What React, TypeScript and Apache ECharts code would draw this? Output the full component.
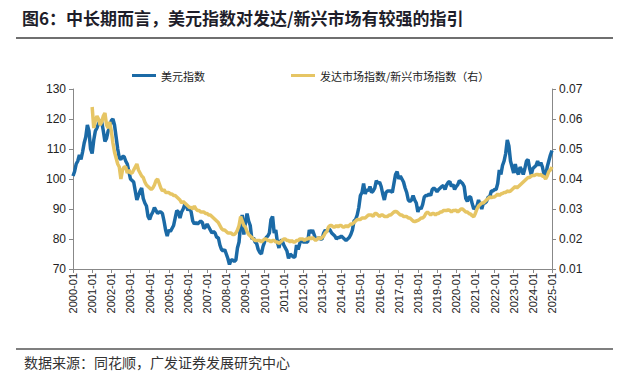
import React, { useEffect, useRef } from "react";
import * as echarts from "echarts";

const TITLE = "图6：中长期而言，美元指数对发达/新兴市场有较强的指引";
const SOURCE = "数据来源：同花顺，广发证券发展研究中心";
const SERIES_NAMES = ["美元指数", "发达市场指数/新兴市场指数（右）"];
const START_YEAR = 2000;

// 美元指数 (monthly, 2000-01 .. 2025-01)
const usdIndex = [
  // 2000
  101, 102.5, 105, 106, 108, 106.5, 109, 112, 114, 118, 116, 110,
  // 2001
  108.5, 113, 116, 117, 118.5, 119.5, 119, 116, 112.5, 113.5, 116, 117,
  // 2002
  119.5, 120, 118, 114, 110, 107, 106.5, 107.5, 107.5, 106, 105, 102.5,
  // 2003
  100, 99.5, 99, 96, 93, 94.5, 96, 97, 93.5, 92, 91, 87.5,
  // 2004
  86.5, 88, 89, 90.5, 89.5, 88.5, 89, 89, 88.5, 86, 83, 81,
  // 2005
  83, 82.5, 83.5, 84.5, 87, 89.5, 89, 87, 89, 90, 91.5, 91,
  // 2006
  89.5, 90.5, 89, 86, 85, 85.5, 85, 85.5, 86, 85.5, 83.5, 84,
  // 2007
  85, 84, 83, 82, 82.5, 82, 80.5, 80.5, 78, 76.5, 76, 76.5,
  // 2008
  75, 73.5, 71.5, 73, 73, 72.5, 73, 77, 79, 85, 88, 81.5,
  // 2009
  85.5, 88.5, 86, 84.5, 80, 80.5, 79, 78.5, 76.5, 75.5, 75, 77.5,
  // 2010
  79, 80.5, 81, 82, 86.5, 87.5, 82, 83, 79, 77, 79.5, 79.5,
  // 2011
  78, 77, 76, 73.5, 75, 74.5, 74, 74, 78, 76.5, 78.5, 80,
  // 2012
  79, 79, 79, 79, 83, 82, 83, 81.5, 80, 80, 80.5, 80,
  // 2013
  80, 82, 83, 82.5, 83.5, 83, 82, 81.5, 81, 80, 80.5, 80.5,
  // 2014
  81, 80.5, 80, 79.5, 80, 80.5, 81.5, 83, 86, 86.5, 88, 90.5,
  // 2015
  94.5, 95.5, 98.5, 95, 96.5, 96, 97.5, 95.5, 96, 97, 99.5, 98.5,
  // 2016
  99, 97.5, 95, 93, 95.5, 96, 96, 96, 95.5, 98.5, 101.5, 102.5,
  // 2017
  100, 101, 100, 99, 97, 95.5, 93, 92.5, 93, 94.5, 93, 92,
  // 2018
  89, 90.5, 90, 91.5, 94, 94.5, 94.5, 95, 94.5, 96.5, 97, 96.5,
  // 2019
  95.8, 96.5, 97, 97.5, 97.8, 96.5, 98, 98.9, 99.2, 97.5, 98.2, 96.5,
  // 2020
  97.5, 98.1, 99.5, 99, 98.5, 97.5, 93.5, 92.5, 94, 94, 91.8, 90,
  // 2021
  90.5, 90.9, 93, 91.5, 90, 92, 92, 92.5, 94, 94, 96, 96,
  // 2022
  96.5, 96.5, 98.5, 103, 101.5, 104.5, 106, 108.5, 113, 111, 106, 104,
  // 2023
  102, 105, 102.5, 101.5, 104, 103, 101.5, 103.5, 106, 106.5, 103.5, 101.5,
  // 2024
  103.5, 104, 104.5, 106, 104.5, 105.5, 104, 101.5, 101, 104, 106, 108,
  // 2025
  109.5,
];

// 发达市场指数/新兴市场指数 (monthly, 2001-01 .. 2025-01)
const DM_EM_START = "2001-01";
const dmEmRatio = [
  // 2001
  0.064, 0.057, 0.0595, 0.061, 0.06, 0.058, 0.059, 0.061, 0.062, 0.058, 0.057, 0.059,
  // 2002
  0.056, 0.052, 0.049, 0.047, 0.045, 0.044, 0.04, 0.043, 0.044, 0.044, 0.042, 0.043,
  // 2003
  0.042, 0.042, 0.043, 0.044, 0.045, 0.043, 0.042, 0.041, 0.0405, 0.039, 0.038, 0.0375,
  // 2004
  0.037, 0.0365, 0.037, 0.038, 0.0395, 0.04, 0.0385, 0.037, 0.036, 0.0365, 0.0355, 0.0355,
  // 2005
  0.0355, 0.035, 0.035, 0.0345, 0.0345, 0.034, 0.0335, 0.033, 0.032, 0.0325, 0.032, 0.0315,
  // 2006
  0.031, 0.0305, 0.0305, 0.03, 0.031, 0.03, 0.0295, 0.0295, 0.029, 0.029, 0.029, 0.0285,
  // 2007
  0.0285, 0.028, 0.028, 0.0275, 0.027, 0.0265, 0.026, 0.0255, 0.0245, 0.0235, 0.023, 0.023,
  // 2008
  0.0225, 0.022, 0.022, 0.022, 0.0215, 0.0215, 0.022, 0.023, 0.0245, 0.0275, 0.026, 0.0245,
  // 2009
  0.024, 0.0225, 0.0215, 0.021, 0.0205, 0.02, 0.0195, 0.0195, 0.0195, 0.0195, 0.019, 0.0195,
  // 2010
  0.02, 0.02, 0.0195, 0.0195, 0.019, 0.0195, 0.0195, 0.019, 0.019, 0.0185, 0.019, 0.0195,
  // 2011
  0.02, 0.02, 0.0195, 0.0195, 0.019, 0.0195, 0.019, 0.019, 0.0195, 0.0195, 0.02, 0.02,
  // 2012
  0.02, 0.0195, 0.02, 0.02, 0.0205, 0.02, 0.0205, 0.02, 0.0195, 0.02, 0.0205, 0.02,
  // 2013
  0.0205, 0.021, 0.022, 0.0225, 0.024, 0.0245, 0.0245, 0.024, 0.024, 0.0245, 0.024, 0.0245,
  // 2014
  0.0245, 0.024, 0.024, 0.0245, 0.024, 0.0245, 0.025, 0.025, 0.0255, 0.026, 0.0265, 0.0265,
  // 2015
  0.0265, 0.027, 0.027, 0.027, 0.0275, 0.028, 0.028, 0.028, 0.0275, 0.0285, 0.0285, 0.028,
  // 2016
  0.0275, 0.028, 0.028, 0.0275, 0.0275, 0.0275, 0.028, 0.028, 0.0285, 0.029, 0.0292, 0.029,
  // 2017
  0.0285, 0.028, 0.028, 0.0275, 0.0275, 0.0275, 0.027, 0.027, 0.0265, 0.026, 0.0258, 0.026,
  // 2018
  0.0262, 0.0265, 0.027, 0.027, 0.0275, 0.0285, 0.029, 0.0285, 0.028, 0.0285, 0.0285, 0.028,
  // 2019
  0.0285, 0.0285, 0.029, 0.029, 0.0295, 0.0295, 0.0295, 0.0297, 0.0295, 0.029, 0.0295, 0.0295,
  // 2020
  0.0296, 0.029, 0.0295, 0.03, 0.03, 0.0295, 0.029, 0.029, 0.0285, 0.0283, 0.0278, 0.0274,
  // 2021
  0.0285, 0.03, 0.031, 0.0315, 0.032, 0.032, 0.0325, 0.033, 0.0335, 0.034, 0.0338, 0.034,
  // 2022
  0.034, 0.0345, 0.035, 0.0345, 0.035, 0.0352, 0.0355, 0.0355, 0.036, 0.0358, 0.036, 0.0365,
  // 2023
  0.037, 0.0375, 0.037, 0.0375, 0.038, 0.0385, 0.039, 0.0395, 0.04, 0.0405, 0.0405, 0.041,
  // 2024
  0.0412, 0.0412, 0.0415, 0.0415, 0.0413, 0.0415, 0.041, 0.0408, 0.04, 0.041, 0.0425, 0.043,
  // 2025
  0.044,
];

const leftTicks = { min: 70, max: 130, interval: 10 };
const rightTicks = { min: 0.01, max: 0.07, interval: 0.01 };

const categories: string[] = usdIndex.map((_, i) => {
  const y = START_YEAR + Math.floor(i / 12);
  const m = (i % 12) + 1;
  return `${y}-${m < 10 ? "0" + m : m}`;
});

const dmEmOffset = categories.indexOf(DM_EM_START);
const dmEmFull: (number | null)[] = categories.map((_, i) =>
  i < dmEmOffset ? null : dmEmRatio[i - dmEmOffset] ?? null
);

const BLUE = "#1b6aa6";
const GOLD = "#e6c564";
const CJK = "'Noto Sans CJK SC', sans-serif";
const LATIN = "'Liberation Sans', Arial, sans-serif";

export default function App() {
  const ref = useRef<HTMLDivElement>(null);
  useEffect(() => {
    document.body.style.margin = "0";
    const chart = echarts.init(ref.current!, null, { renderer: "svg" });
    chart.setOption({
      animation: false,
      backgroundColor: "#ffffff",
      textStyle: { fontFamily: LATIN },
      legend: {
        top: 65,
        left: 127,
        itemGap: 86,
        itemWidth: 24,
        itemHeight: 3,
        icon: "rect",
        textStyle: { fontSize: 11, color: "#222", fontFamily: CJK },
        data: SERIES_NAMES,
      },
      grid: { left: 73, right: 75, top: 89, bottom: 110 },
      xAxis: {
        type: "category",
        data: categories,
        boundaryGap: false,
        axisLine: { lineStyle: { color: "#888", width: 1 } },
        axisTick: { interval: 11, length: 4, lineStyle: { color: "#888" } },
        axisLabel: {
          interval: 11,
          rotate: 90,
          fontSize: 11,
          color: "#222",
          margin: 4,
          fontFamily: LATIN,
        },
      },
      yAxis: [
        {
          type: "value",
          min: leftTicks.min,
          max: leftTicks.max,
          interval: leftTicks.interval,
          axisLine: { show: true, lineStyle: { color: "#888" } },
          axisTick: { show: true, length: 4, lineStyle: { color: "#888" } },
          splitLine: { show: false },
          axisLabel: { fontSize: 12, color: "#222", margin: 7, fontFamily: LATIN },
        },
        {
          type: "value",
          position: "right",
          min: rightTicks.min,
          max: rightTicks.max,
          interval: rightTicks.interval,
          axisLine: { show: true, lineStyle: { color: "#888" } },
          axisTick: { show: true, length: 4, lineStyle: { color: "#888" } },
          splitLine: { show: false },
          axisLabel: {
            fontSize: 12,
            color: "#222",
            margin: 7,
            fontFamily: LATIN,
            formatter: (v: number) => v.toFixed(2),
          },
        },
      ],
      series: [
        {
          name: SERIES_NAMES[0],
          type: "line",
          yAxisIndex: 0,
          data: usdIndex,
          symbol: "none",
          lineStyle: { width: 3.5, color: BLUE },
          itemStyle: { color: BLUE },
        },
        {
          name: SERIES_NAMES[1],
          type: "line",
          yAxisIndex: 1,
          data: dmEmFull,
          symbol: "none",
          connectNulls: false,
          lineStyle: { width: 3.5, color: GOLD },
          itemStyle: { color: GOLD },
        },
      ],
      graphic: [
        {
          type: "text",
          left: 22,
          top: 9,
          style: {
            text: TITLE,
            fontSize: 17,
            fontWeight: "bold",
            fill: "#1e1e2a",
            fontFamily: CJK,
          },
        },
        {
          type: "line",
          shape: { x1: 16, y1: 38, x2: 613, y2: 38 },
          style: { stroke: "#6f6f6f", lineWidth: 2 },
        },
        {
          type: "line",
          shape: { x1: 16, y1: 349, x2: 613, y2: 349 },
          style: { stroke: "#555", lineWidth: 1.5 },
        },
        {
          type: "text",
          left: 24,
          top: 355,
          style: {
            text: SOURCE,
            fontSize: 14,
            fill: "#333",
            fontFamily: CJK,
          },
        },
      ],
    });
    return () => chart.dispose();
  }, []);
  return (
    <div
      ref={ref}
      style={{ position: "fixed", left: 0, top: 0, width: 627, height: 379 }}
    />
  );
}
